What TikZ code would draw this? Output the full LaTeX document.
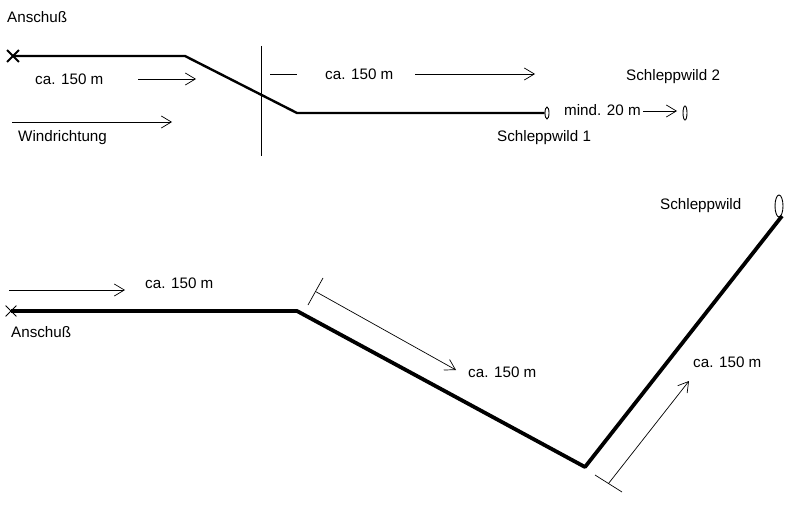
\documentclass[tikz,border=0pt]{standalone}
\usepackage{fontspec}
\setmainfont{Liberation Sans}
\usetikzlibrary{positioning}
\usetikzlibrary{shapes,arrows.meta,calc}
\tikzset{%
  lbl/.style   = {inner sep=0pt, anchor=west, font=\fontsize{15.2}{18}\selectfont},
  track/.style = {line width=2.4pt, line join=round},
  trackb/.style = {line width=3.8pt, line join=round},
  wild/.style  = {draw, ellipse, inner sep=0pt, line width=0.9pt}, % Schleppwild
  shot/.style  = {draw, cross out, inner sep=0pt, minimum size=10pt}, % Anschuss
  dimline/.style = {line width=0.7pt}
}

\begin{document}
\begin{tikzpicture}[x=1pt, y=-1pt, >={Straight Barb[length=10pt,width=12pt]}]
  \useasboundingbox (0,0) rectangle (789,508);

  % oben
  \draw node at (7,17) [lbl] (anschussA) {Anschuß};
  \draw node at (13,56) [shot, line width=1.8pt] (shotA) {};
  \coordinate (kA1) at (185,56);
  \coordinate (kA2) at (297,113);
  \draw node at (547,113) [wild, minimum width=4pt, minimum height=12pt] (wildA) {};
  \draw[track] (shotA.center) -- (kA1) -- (kA2) -- (wildA.west);

  \coordinate (vA1) at (261,46);
  \coordinate (vA2) at (261,156);
  \draw[dimline] (vA1) -- (vA2);
  \coordinate (hA1) at (270,74);
  \coordinate (hA2) at (297,74);
  \draw[dimline] (hA1) -- (hA2);

  \draw node at (325,74) [lbl] (distA2) {ca. 150 m};
  \coordinate (aA2s) at (415,74);
  \coordinate (aA2e) at (535,74);
  \draw[dimline,->] (aA2s) -- (aA2e);

  \draw node at (35,79) [lbl] (distA1) {ca. 150 m};
  \coordinate (aA1s) at (138,79);
  \coordinate (aA1e) at (196,79);
  \draw[dimline,->] (aA1s) -- (aA1e);

  \coordinate (windS) at (12,122);
  \coordinate (windE) at (172,122);
  \draw[dimline,->] (windS) -- (windE);
  \draw node at (18,138) [lbl] (wind) {Windrichtung};

  \draw node at (497,138) [lbl] (wildA1txt) {Schleppwild 1};
  \draw node at (626,77) [lbl] (wildA2txt) {Schleppwild 2};
  \draw node at (564,110) [lbl] (mind) {mind. 20 m};
  \draw node at (685,113) [wild, minimum width=4pt, minimum height=14pt] (wildA2) {};
  \coordinate (aMs) at (643,111);
  \coordinate (aMe) at (677,111);
  \draw[dimline,->] (aMs) -- (aMe);

  % unten
  \draw node at (11,311) [shot, line width=0.8pt] (shotB) {};
  \draw node at (11,332) [lbl] (anschussB) {Anschuß};
  \coordinate (kB1) at (297,311);
  \coordinate (kB2) at (585,467);
  \coordinate (kB3) at (782,216);
  \draw node at (779,206) [wild, minimum width=8pt, minimum height=22pt] (wildB) {};
  \draw node at (660,206) [lbl] (wildBtxt) {Schleppwild};
  \draw[trackb] (shotB.center) -- (kB1) -- (kB2) -- (kB3);

  \coordinate (aB1s) at (9,290);
  \coordinate (aB1e) at (125,290);
  \draw[dimline,->] (aB1s) -- (aB1e);
  \draw node at (145,283) [lbl] (distB1) {ca. 150 m};

  \coordinate (tB2a) at (323,278);
  \coordinate (tB2b) at (308,305);
  \draw[dimline] (tB2a) -- (tB2b);
  \coordinate (aB2s) at ($(tB2a)!0.5!(tB2b)$);
  \coordinate (aB2e) at (456,370);
  \draw[dimline,->] (aB2s) -- (aB2e);
  \draw node at (468,372) [lbl] (distB2) {ca. 150 m};

  \coordinate (tB3a) at (595,475);
  \coordinate (tB3b) at (622,492);
  \draw[dimline] (tB3a) -- (tB3b);
  \coordinate (aB3s) at ($(tB3a)!0.5!(tB3b)$);
  \coordinate (aB3e) at (689,381);
  \draw[dimline,->] (aB3s) -- (aB3e);
  \draw node at (693,362) [lbl] (distB3) {ca. 150 m};

\end{tikzpicture}
\end{document}
